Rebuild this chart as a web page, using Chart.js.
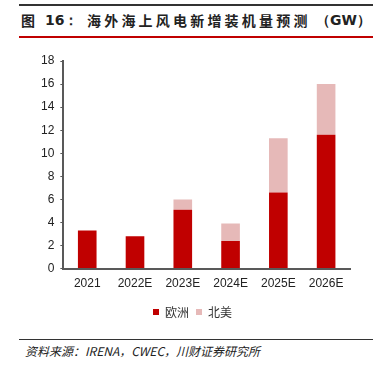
<!DOCTYPE html>
<html><head><meta charset="utf-8">
<script src="https://cdn.jsdelivr.net/npm/chart.js@4"></script>
<style>
html,body{margin:0;padding:0;background:#fff;width:380px;height:375px;overflow:hidden;}
#topline{position:absolute;left:19px;top:4px;width:354px;height:2px;background:#333;}
.t{position:absolute;top:9px;font-family:"Noto Sans CJK SC";font-weight:bold;font-size:14px;color:#222;white-space:nowrap;line-height:22px;}
#redline{position:absolute;left:19px;top:36px;width:354px;height:2px;background:#C00000;}
#botline{position:absolute;left:19px;top:339px;width:354px;height:1px;background:#333;}
#source{position:absolute;left:25px;top:343px;font-family:"Noto Sans CJK SC";font-style:italic;font-size:12px;color:#222;white-space:nowrap;line-height:16px;}
#wrap{position:absolute;left:0;top:40px;width:380px;height:288px;}
</style></head>
<body>
<div id="topline"></div>
<span class="t" style="left:21px">图</span>
<span class="t" style="left:45px;font-family:'DejaVu Sans';font-size:14px">16：</span>
<span class="t" style="left:87px;letter-spacing:3.2px">海外海上风电新增装机量预测</span>
<span class="t" style="left:316px;font-family:'DejaVu Sans';">（GW）</span>
<div id="redline"></div>
<div id="wrap"><canvas id="c"></canvas></div>
<div id="botline"></div>
<div id="source">资料来源：IRENA，CWEC，川财证券研究所</div>
<script>
const categories = ["2021","2022E","2023E","2024E","2025E","2026E"];
const europe = [3.3, 2.8, 5.1, 2.4, 6.6, 11.6];
const northAmerica = [0, 0, 0.9, 1.5, 4.7, 4.4];
const seriesNames = ["欧洲","北美"];
const yTicks = [0,2,4,6,8,10,12,14,16,18];

new Chart(document.getElementById('c'), {
  type: 'bar',
  data: {
    labels: categories,
    datasets: [
      {label: seriesNames[0], data: europe, backgroundColor: '#C00000', borderWidth: 0, categoryPercentage: 1, barPercentage: 0.39},
      {label: seriesNames[1], data: northAmerica, backgroundColor: '#E6B9B8', borderWidth: 0, categoryPercentage: 1, barPercentage: 0.39}
    ]
  },
  options: {
    responsive: true,
    maintainAspectRatio: false,
    animation: false,
    layout: {padding: {left: 35, right: 30, top: 21, bottom: 0}},
    plugins: {
      legend: {
        position: 'bottom',
        labels: {boxWidth: 6, boxHeight: 6, padding: 7, color: '#333', font: {family: '"Noto Sans CJK SC"', size: 12}}
      },
      tooltip: {enabled: false}
    },
    scales: {
      x: {
        stacked: true,
        grid: {display: false, drawTicks: false},
        border: {color: '#595959', width: 2},
        ticks: {color: '#222', padding: 8, font: {family: '"Liberation Sans", Arial', size: 12}}
      },
      y: {
        stacked: true,
        min: 0, max: 18,
        afterBuildTicks: (s) => { s.ticks = yTicks.map(v => ({value: v})); },
        grid: {drawOnChartArea: false, drawTicks: true, tickLength: 3, color: '#595959', width: 1.5},
        border: {color: '#595959', width: 2},
        ticks: {color: '#222', padding: 6, font: {family: '"Liberation Sans", Arial', size: 12}}
      }
    }
  }
});
</script>
</body></html>
